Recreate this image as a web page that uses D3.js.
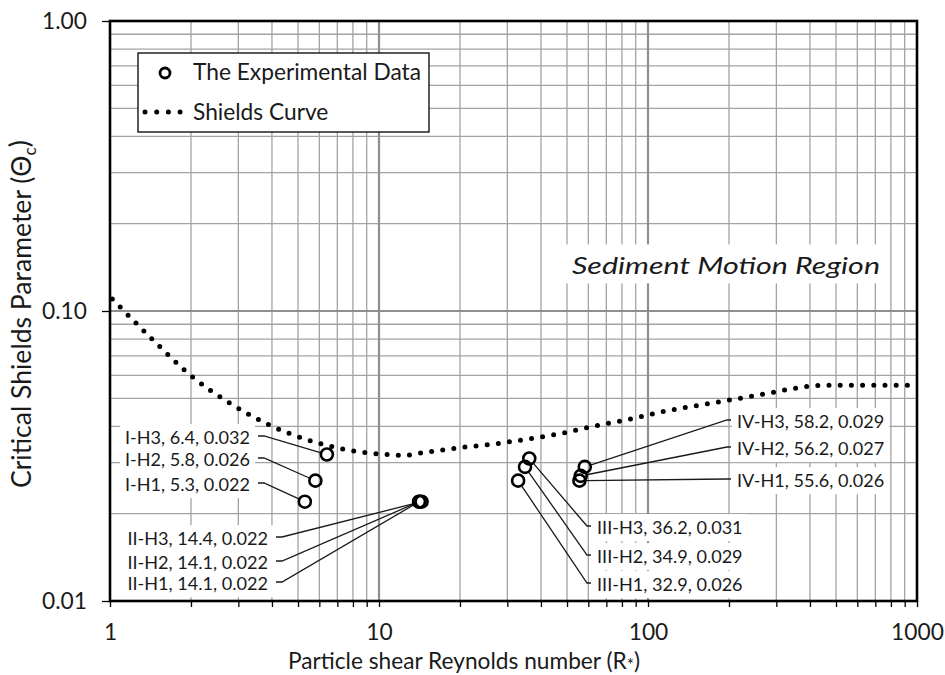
<!DOCTYPE html>
<html><head><meta charset="utf-8">
<script src="https://cdn.jsdelivr.net/npm/d3@7"></script>
<style>
body{margin:0;background:#fff}
svg{display:block}
text{font-family:Lato,'Open Sans',sans-serif;fill:#1a1a1a}
</style>
</head><body>
<svg id="chart" width="945" height="675"></svg>
<script>
// ---------- data ----------
const sampleIds   = ["I-H1","I-H2","I-H3","II-H1","II-H2","II-H3","III-H1","III-H2","III-H3","IV-H1","IV-H2","IV-H3"];
const reynolds    = [5.3, 5.8, 6.4, 14.1, 14.1, 14.4, 32.9, 34.9, 36.2, 55.6, 56.2, 58.2];
const shieldsPar  = [0.022,0.026,0.032,0.022,0.022,0.022,0.026,0.029,0.031,0.026,0.027,0.029];
// Shields curve
const curveR     = [1.02, 1.43, 2.04, 2.82, 3.97, 5.73, 7.61, 10.2, 12.3, 15.0, 20.0, 26.8, 35.8, 47.9, 64.1, 85.2, 114, 167, 246, 361, 436, 1000];
const curveTheta = [0.110,0.0802,0.0589,0.0478,0.0402,0.0354,0.0332,0.0321,0.0318,0.0326,0.0338,0.0348,0.0362,0.0379,0.0402,0.0423,0.0450,0.0479,0.0509,0.0543,0.0554,0.0555];
const xTickValues = [1, 10, 100, 1000];
const xTickLabels = ["1", "10", "100", "1000"];
const yTickValues = [1, 0.1, 0.01];
const yTickLabels = ["1.00", "0.10", "0.01"];
const legendLabels = ["The Experimental Data", "Shields Curve"];

// ---------- layout ----------
const L = 110, R = 917, T = 21, B = 601;
const svg = d3.select("#chart");
const x = d3.scaleLog().domain([1, 1000]).range([L, R]);
const y = d3.scaleLog().domain([0.01, 1]).range([B, T]);

// label placement (annotation layout, pixels)
const labelLayout = {
  "I-H1":  {lx:250, ly:485, side:"left"},
  "I-H2":  {lx:250, ly:460, side:"left"},
  "I-H3":  {lx:250, ly:438, side:"left"},
  "II-H1": {lx:268, ly:584, side:"left"},
  "II-H2": {lx:268, ly:563, side:"left"},
  "II-H3": {lx:268, ly:539, side:"left"},
  "III-H1":{lx:597, ly:585, side:"right"},
  "III-H2":{lx:597, ly:557, side:"right"},
  "III-H3":{lx:597, ly:528, side:"right"},
  "IV-H1": {lx:737, ly:481, side:"right"},
  "IV-H2": {lx:737, ly:449, side:"right"},
  "IV-H3": {lx:737, ly:422, side:"right"}
};

function fit(sel, w) {
  const m = sel.node().getComputedTextLength();
  const cur = parseFloat(sel.attr("font-size"));
  const s = cur * w / m;
  sel.attr("font-size", s);
  return s;
}
// set a font size, then squeeze all texts by the factor that makes the reference text reach its target width
function condense(all, ref, size, target) {
  all.attr("font-size", size);
  const f = target / ref.node().getComputedTextLength();
  all.each(function() {
    const n = this;
    d3.select(n).attr("textLength", n.getComputedTextLength() * f).attr("lengthAdjust", "spacingAndGlyphs");
  });
}

// ---------- grid ----------
const minorX = [], minorY = [];
[1, 10, 100].forEach(d => { for (let k = 2; k <= 9; k++) minorX.push(k * d); });
[0.01, 0.1].forEach(d => { for (let k = 2; k <= 9; k++) minorY.push(k * d); });
const grid = svg.append("g");
grid.selectAll(".gx").data(minorX).join("line")
  .attr("x1", d => x(d)).attr("x2", d => x(d)).attr("y1", T).attr("y2", B)
  .attr("stroke", "#a3a3a3").attr("stroke-width", 1.3);
grid.selectAll(".gy").data(minorY).join("line")
  .attr("x1", L).attr("x2", R).attr("y1", d => y(d)).attr("y2", d => y(d))
  .attr("stroke", "#a3a3a3").attr("stroke-width", 1.3);
grid.selectAll(".gX").data(xTickValues.slice(1, -1)).join("line")
  .attr("x1", d => x(d)).attr("x2", d => x(d)).attr("y1", T).attr("y2", B)
  .attr("stroke", "#8f8f8f").attr("stroke-width", 2.2);
grid.selectAll(".gY").data(yTickValues.slice(1, -1)).join("line")
  .attr("x1", L).attr("x2", R).attr("y1", d => y(d)).attr("y2", d => y(d))
  .attr("stroke", "#8f8f8f").attr("stroke-width", 2.2);

// ---------- region text ----------
const regionG = svg.append("g");
const regionBox = regionG.append("rect").attr("fill", "#fff");
const regionTxt = regionG.append("text")
  .attr("x", 726).attr("y", 266).attr("text-anchor", "middle").attr("dy", "0.35em")
  .attr("font-style", "italic").text("Sediment Motion Region");
condense(regionTxt, regionTxt, 24, 308);
{ const b = regionTxt.node().getBBox();
  regionBox.attr("x", b.x - 8).attr("y", b.y - 6).attr("width", b.width + 16).attr("height", b.height + 10); }

// ---------- label boxes + texts ----------
const pts = sampleIds.map((id, i) => ({id, r: reynolds[i], t: shieldsPar[i], lay: labelLayout[id]}));
const labG = svg.append("g");
const labTexts = labG.selectAll("g").data(pts).join("g");
labTexts.append("rect").attr("fill", "#fff");
labTexts.append("text")
  .attr("x", d => d.lay.lx).attr("y", d => d.lay.ly).attr("dy", "0.35em")
  .attr("text-anchor", d => d.lay.side === "left" ? "end" : "start")
  .text(d => `${d.id}, ${d3.format(".1f")(d.r)}, ${d3.format(".3f")(d.t)}`);
condense(labTexts.select("text"), labTexts.filter(d => d.id === "I-H3").select("text"), 17.5, 125);
labTexts.each(function() {
  const g = d3.select(this);
  const b = g.select("text").node().getBBox();
  g.select("rect").attr("x", b.x - 5).attr("y", b.y - 3).attr("width", b.width + 10).attr("height", b.height + 6);
});

// ---------- Shields curve ----------
const curveData = curveR.map((r, i) => ({r, t: curveTheta[i]}));
svg.append("path").datum(curveData)
  .attr("d", d3.line().x(d => x(d.r)).y(d => y(d.t)).curve(d3.curveMonotoneX))
  .attr("fill", "none").attr("stroke", "#000").attr("stroke-width", 5)
  .attr("stroke-linecap", "round").attr("stroke-dasharray", "0 11.2");

// ---------- leader lines ----------
const rC = 6;
const leadG = svg.append("g");
pts.forEach(d => {
  const px = x(d.r), py = y(d.t);
  const lay = d.lay;
  const yl = lay.ly - 2;
  let e1, e2;
  if (lay.side === "left") { e2 = lay.lx + 8; e1 = lay.lx + 14; }
  else { e2 = lay.lx - 6; e1 = lay.lx - 10; }
  const dx = e1 - px, dy = yl - py, len = Math.hypot(dx, dy);
  const sx = px + dx / len * rC, sy = py + dy / len * rC;
  leadG.append("path")
    .attr("d", `M${sx},${sy}L${e1},${yl}L${e2},${yl}`)
    .attr("fill", "none").attr("stroke", "#1a1a1a").attr("stroke-width", 1.3);
});

// ---------- data points ----------
svg.append("g").selectAll("circle").data(pts).join("circle")
  .attr("cx", d => x(d.r)).attr("cy", d => y(d.t)).attr("r", rC)
  .attr("fill", "none").attr("stroke", "#000").attr("stroke-width", 2.6);

// ---------- legend ----------
const lg = svg.append("g");
const legBox = lg.append("rect").attr("x", 138).attr("y", 53).attr("height", 79)
  .attr("fill", "#fff").attr("stroke", "#000").attr("stroke-width", 1.3);
lg.append("circle").attr("cx", 165).attr("cy", 73).attr("r", 5)
  .attr("fill", "none").attr("stroke", "#000").attr("stroke-width", 2.8);
lg.append("line").attr("x1", 145).attr("x2", 181).attr("y1", 112).attr("y2", 112)
  .attr("stroke", "#000").attr("stroke-width", 5).attr("stroke-linecap", "round").attr("stroke-dasharray", "0 11.7");
const lt = lg.selectAll("text").data(legendLabels).join("text")
  .attr("x", 193).attr("y", (d, i) => i ? 112 : 72).attr("dy", "0.35em").text(d => d);
condense(lt, lt.filter((d, i) => i === 0), 23, 228);
legBox.attr("width", 193 + 228 + 8 - 138);

// ---------- axes ----------
const xAxis = d3.axisBottom(x).tickValues([...xTickValues, ...minorX]).tickSize(6)
  .tickFormat(d => { const i = xTickValues.indexOf(d); return i >= 0 ? xTickLabels[i] : ""; });
const gx = svg.append("g").attr("transform", `translate(0,${B})`).call(xAxis);
gx.select(".domain").remove();
gx.selectAll("line").attr("stroke", "#000").attr("stroke-width", 1.3);
gx.selectAll("text").attr("y", 31).attr("dy", "0.35em").attr("fill", "#1a1a1a").attr("font-family", null);

const yAxis = d3.axisLeft(y).tickValues(yTickValues).tickSize(8)
  .tickFormat(d => yTickLabels[yTickValues.indexOf(d)]);
const gy = svg.append("g").attr("transform", `translate(${L},0)`).call(yAxis);
gy.select(".domain").remove();
gy.selectAll("line").attr("stroke", "#000").attr("stroke-width", 1.3);
gy.selectAll("text").attr("x", -23).attr("dy", "0.35em").attr("fill", "#1a1a1a").attr("font-family", null);
const t100 = gy.selectAll("text").filter(d => d === 1);
t100.attr("font-size", 20);
const tickSize = fit(t100, 45);
gy.selectAll("text").attr("font-size", tickSize);
gx.selectAll("text").attr("font-size", tickSize);

svg.append("rect").attr("x", L).attr("y", T).attr("width", R - L).attr("height", B - T)
  .attr("fill", "none").attr("stroke", "#000").attr("stroke-width", 2.6);

// ---------- axis titles ----------
const xt = svg.append("text").attr("x", 464).attr("y", 661).attr("dy", "0.35em")
  .attr("text-anchor", "middle").attr("font-size", 20);
xt.append("tspan").text("Particle shear Reynolds number (R");
xt.append("tspan").attr("font-size", "0.75em").attr("dy", "0.15em").text("*");
xt.append("tspan").attr("dy", "-0.12em").text(")");
fit(xt, 352);

const yt = svg.append("text").attr("transform", "translate(22,314) rotate(-90)")
  .attr("text-anchor", "middle").attr("dy", "0.35em").attr("font-size", 20);
yt.append("tspan").text("Critical Shields Parameter (Θ");
yt.append("tspan").attr("font-size", "0.65em").attr("dy", "0.3em").text("c");
yt.append("tspan").attr("dy", "-0.3em").text(")");
fit(yt, 348);
</script>
</body></html>
